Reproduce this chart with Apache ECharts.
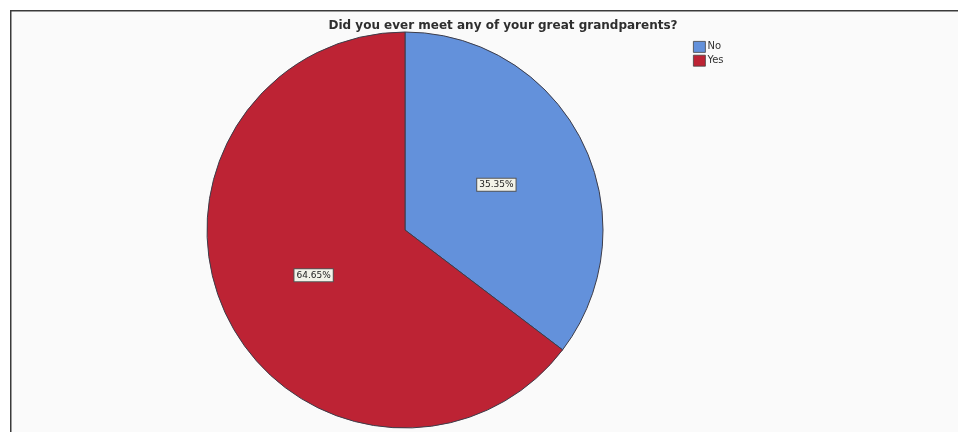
<!DOCTYPE html>
<html>
<head>
<meta charset="utf-8">
<style>
  html, body { margin: 0; padding: 0; background: #ffffff; }
  #chart { width: 958px; height: 432px; }
</style>
<script src="https://cdn.jsdelivr.net/npm/echarts@6/dist/echarts.min.js"></script>
</head>
<body>
<div id="chart"></div>
<script>
// Answers and their shares (percent)
const categories = ['No', 'Yes'];
const shares = [35.35, 64.65];
const colors = ['#6391db', '#bd2334'];
const chartTitle = 'Did you ever meet any of your great grandparents?';

const chart = echarts.init(document.getElementById('chart'));

chart.setOption({
  backgroundColor: '#ffffff',
  animation: false,
  graphic: [
    // panel frame: light panel with dark top and left rules
    { type: 'rect', shape: { x: 11, y: 10, width: 947, height: 422 }, style: { fill: '#fafafa' }, z: -10 },
    { type: 'rect', shape: { x: 10, y: 10, width: 948, height: 1.5 }, style: { fill: '#3a3a3a' }, z: 10 },
    { type: 'rect', shape: { x: 10, y: 10, width: 1.5, height: 422 }, style: { fill: '#3a3a3a' }, z: 10 }
  ],
  title: {
    text: chartTitle,
    left: 498,
    top: 15,
    textAlign: 'center',
    textStyle: { fontFamily: 'DejaVu Sans', fontSize: 12, fontWeight: 600, color: '#2e2e2e' }
  },
  legend: {
    orient: 'vertical',
    left: 688,
    top: 36,
    itemWidth: 12,
    itemHeight: 11,
    itemGap: 2,
    icon: 'rect',
    textStyle: { fontFamily: 'DejaVu Sans', fontSize: 10, color: '#333333', padding: [0, 0, 0, -3] },
    itemStyle: { borderColor: '#444444', borderWidth: 0.8 },
    data: categories
  },
  series: [{
    type: 'pie',
    center: [405, 230],
    radius: [0, 198],
    startAngle: 90,
    clockwise: true,
    silent: true,
    itemStyle: { borderColor: '#3d3d4a', borderWidth: 1 },
    label: {
      position: 'inside',
      formatter: p => p.value.toFixed(2) + '%',
      fontFamily: 'DejaVu Sans',
      fontSize: 9,
      color: '#222222',
      backgroundColor: '#f2f2e8',
      borderColor: '#555555',
      borderWidth: 1,
      padding: [2, 2, 1, 2]
    },
    labelLine: { show: false },
    data: categories.map((c, i) => ({
      name: c,
      value: shares[i],
      itemStyle: { color: colors[i] }
    }))
  }]
});
</script>
</body>
</html>
